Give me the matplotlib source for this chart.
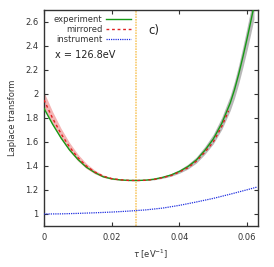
import matplotlib
matplotlib.use("Agg")
import matplotlib.pyplot as plt
import numpy as np

# experiment curve (tau, value)
tau_exp = [0.000, 0.0025, 0.005, 0.0075, 0.010, 0.0125, 0.015, 0.0175, 0.020, 0.0225,
           0.025, 0.0275, 0.030, 0.0325, 0.035, 0.0375, 0.040, 0.0425, 0.045, 0.0475,
           0.050, 0.0525, 0.055, 0.05625, 0.0575, 0.05875, 0.060, 0.061, 0.062]
val_exp = [1.88, 1.75, 1.635, 1.535, 1.455, 1.39, 1.345, 1.31, 1.293, 1.284,
           1.280, 1.279, 1.282, 1.290, 1.305, 1.325, 1.355, 1.395, 1.45, 1.53,
           1.625, 1.755, 1.925, 2.035, 2.165, 2.31, 2.465, 2.595, 2.73]
err_exp = [0.0, 0.0, 0.0, 0.0, 0.0, 0.0, 0.0, 0.0, 0.0, 0.0,
           0.0, 0.0, 0.003, 0.005, 0.008, 0.011, 0.015, 0.02, 0.025, 0.032,
           0.04, 0.05, 0.062, 0.07, 0.078, 0.086, 0.095, 0.1, 0.106]

# mirrored curve
tau_mir = [0.000, 0.0025, 0.005, 0.0075, 0.010, 0.0125, 0.015, 0.0175, 0.020, 0.0225,
           0.025, 0.0275, 0.030, 0.0325, 0.035, 0.0375, 0.040, 0.0425, 0.045, 0.0475,
           0.050, 0.0525, 0.0545]
val_mir = [1.95, 1.80, 1.67, 1.56, 1.47, 1.40, 1.35, 1.315, 1.295, 1.285,
           1.280, 1.279, 1.281, 1.288, 1.303, 1.32, 1.35, 1.385, 1.44, 1.515,
           1.60, 1.73, 1.86]
err_mir = [0.065, 0.055, 0.045, 0.036, 0.028, 0.021, 0.015, 0.01, 0.007, 0.004,
           0.003, 0.0, 0.0, 0.0, 0.0, 0.0, 0.0, 0.0, 0.0, 0.0,
           0.0, 0.0, 0.0]

# instrument curve
tau_ins = [0.000, 0.005, 0.010, 0.015, 0.020, 0.025, 0.030, 0.035, 0.040, 0.045,
           0.050, 0.055, 0.060, 0.063]
val_ins = [1.000, 1.001, 1.005, 1.010, 1.016, 1.024, 1.034, 1.049, 1.072, 1.100,
           1.130, 1.165, 1.202, 1.225]

tau_mark = 0.0273
xticks = [0, 0.02, 0.04, 0.06]
xticklabels = ["0", "0.02", "0.04", "0.06"]
yticks = [1.0, 1.2, 1.4, 1.6, 1.8, 2.0, 2.2, 2.4, 2.6]
yticklabels = ["1", "1.2", "1.4", "1.6", "1.8", "2", "2.2", "2.4", "2.6"]

plt.rcParams['font.family'] = ['DejaVu Sans']
fig = plt.figure(figsize=(2.74, 2.67), dpi=100)
ax = fig.add_axes([0.1606, 0.1536, 0.781, 0.809])

te = np.array(tau_exp); ve = np.array(val_exp); ee = np.array(err_exp)
tm = np.array(tau_mir); vm = np.array(val_mir); em = np.array(err_mir)

ax.fill_between(te, ve - ee, ve + ee, color='#b8b8b8', lw=0, zorder=1)
ax.fill_between(tm, vm - em, vm + em, color='#f4b4b4', lw=0, zorder=1)
ax.axvline(tau_mark, color='#f8cc70', lw=1.2, ls=(0, (1, 0.6)), zorder=2)
ax.plot(tau_exp, val_exp, color='#159a15', lw=1.0, label='experiment', zorder=3)
ax.plot(tau_mir, val_mir, color='#e01f1f', lw=1.0, ls=(0, (2, 2)), label='mirrored', zorder=4)
ax.plot(tau_ins, val_ins, color='#2030e0', lw=0.9, ls=(0, (1, 0.8)), label='instrument', zorder=3)

ax.set_xlim(0, 0.0632)
ax.set_ylim(0.9, 2.7)
ax.set_xticks(xticks)
ax.set_xticklabels(xticklabels)
ax.set_yticks(yticks)
ax.set_yticklabels(yticklabels)
ax.tick_params(direction='in', length=3, width=0.8, top=True, right=True,
               labelsize=6, labelcolor='#333333', color='#333333')
ax.tick_params(axis='x', pad=5)
ax.tick_params(axis='y', pad=4)
for s in ax.spines.values():
    s.set_linewidth(1.0)
    s.set_color('#333333')

ax.set_xlabel(r'$\tau$ [eV$^{-1}$]', fontsize=6, color='#333333', labelpad=4)
ax.set_ylabel('Laplace transform', fontsize=6, color='#333333', labelpad=6)

leg = ax.legend(loc='upper left', bbox_to_anchor=(0.02, 1.0), frameon=False,
                markerfirst=False, fontsize=6, handlelength=3.0, handletextpad=0.5,
                labelspacing=0.12, borderaxespad=0.25)
for t in leg.get_texts():
    t.set_color('#333333')

ax.text(0.05, 0.79, 'x = 126.8eV', transform=ax.transAxes, fontsize=7, color='#222222',
        va='center', ha='left')
ax.text(0.49, 0.905, 'c)', transform=ax.transAxes, fontsize=8.5, color='#222222',
        va='center', ha='left')

fig.savefig('out.png', dpi=100)
